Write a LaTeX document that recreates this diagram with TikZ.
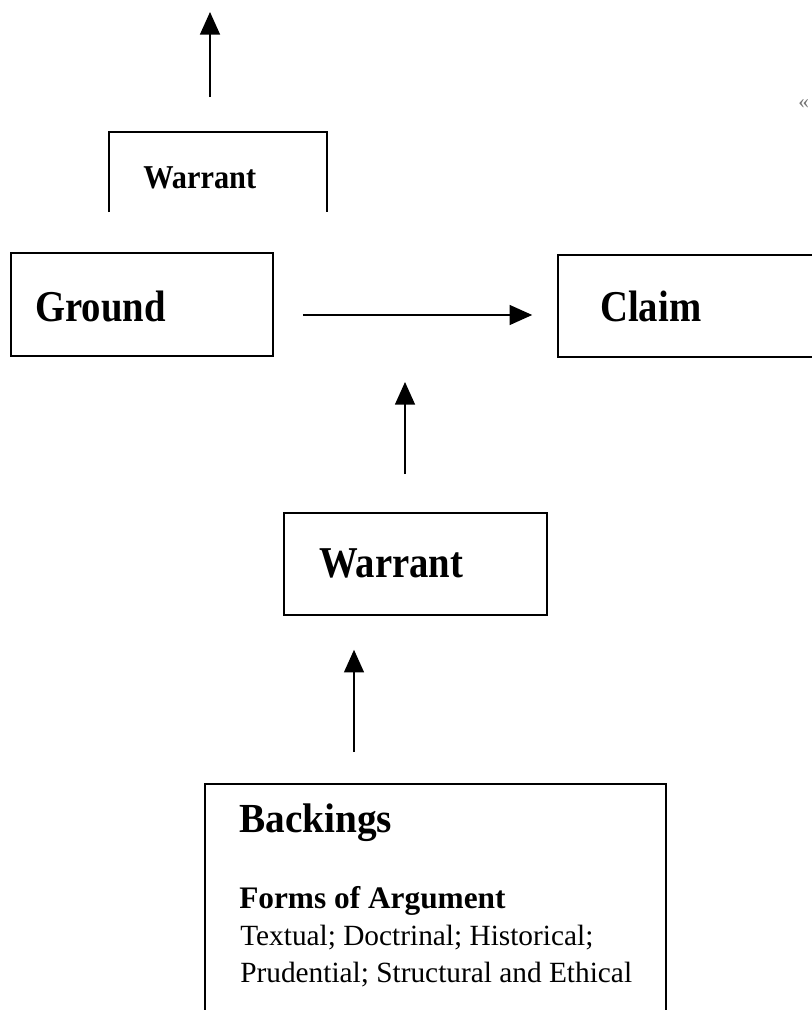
\documentclass[tikz,border=0pt]{standalone}
\usepackage{fontspec}
\setmainfont{Liberation Serif}
\newfontfamily\bigfam{Liberation Serif}[FakeStretch=0.88]
\newfontfamily\topfam{Liberation Serif}[FakeStretch=0.91]
\newfontfamily\backfam{Liberation Serif}[FakeStretch=0.95]
\usetikzlibrary{arrows.meta}
\begin{document}
\begin{tikzpicture}[x=0.75pt,y=-0.75pt,
  boxline/.style={draw=black,line width=1.2pt},
  boxnode/.style={boxline,inner sep=0pt,fill=none},
  arr/.style={line width=1.1pt,-{Triangle[length=17pt,width=15pt]}},
  lbl/.style={anchor=base west,inner sep=0pt},
  bigtxt/.style={lbl,font=\bigfam\bfseries\fontsize{33}{36}\selectfont},
  toptxt/.style={lbl,font=\topfam\bfseries\fontsize{25}{28}\selectfont},
  backtxt/.style={lbl,font=\backfam\bfseries\fontsize{31}{34}\selectfont},
  formtxt/.style={lbl,font=\bfseries\fontsize{23.5}{26}\selectfont},
  plaintxt/.style={lbl,font=\fontsize{22}{26}\selectfont}]
\useasboundingbox (0,0) rectangle (811,1010);

% top partial Warrant box
\draw[boxline] (109,212) -- (109,132) -- (327,132) -- (327,212);
\coordinate (topbox) at (210,132);
\coordinate (toptip) at (210,12);
\node[toptxt] (topwarrant) at (143,188) {Warrant};
\draw[arr] ([shift={(0,-35)}]topbox) -- (toptip);

% stray mark
\node[anchor=west,inner sep=0pt,text=gray!90!black,font=\fontsize{16}{18}\selectfont] (mark) at (798,104) {«};

% Ground and Claim
\node[boxnode,minimum width=196.5pt,minimum height=77.25pt] (ground) at (142,304.5) {};
\node[bigtxt] (groundt) at (35,321) {Ground};
\node[boxnode,minimum width=211.5pt,minimum height=76.5pt] (claim) at (699,306) {};
\node[bigtxt] (claimt) at (600,321) {Claim};
\draw[arr] ([shift={(29,10.5)}]ground.east) -- ([shift={(-25,9)}]claim.west);

% middle Warrant
\node[boxnode,minimum width=197.25pt,minimum height=76.5pt] (warrant) at (415.5,564) {};
\node[bigtxt] (warrantt) at (319,577) {Warrant};
\coordinate (wtip) at (405,382);
\draw[arr] ([shift={(-10.5,-38)}]warrant.north) -- (wtip);

% Backings
\node[boxnode,minimum width=345.75pt,minimum height=184.5pt] (backings) at (435.5,907) {};
\node[backtxt] (backt) at (239,832) {Backings};
\node[formtxt] (formt) at (239,908) {Forms of Argument};
\node[plaintxt] (line1) at (240,945) {Textual; Doctrinal; Historical;};
\node[plaintxt] (line2) at (240,982) {Prudential; Structural and Ethical};
\draw[arr] ([shift={(-81.5,-31)}]backings.north) -- ([shift={(-61.5,34)}]warrant.south);
\end{tikzpicture}
\end{document}
